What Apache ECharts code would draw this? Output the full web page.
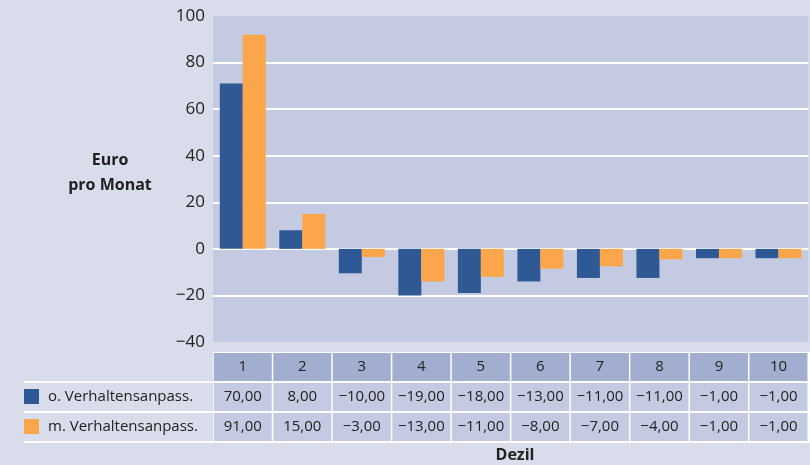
<!DOCTYPE html>
<html>
<head>
<meta charset="utf-8">
<script src="https://cdn.jsdelivr.net/npm/echarts@6/dist/echarts.min.js"></script>
<style>
  html, body { margin: 0; padding: 0; background: #d9dcea; }
  #chart { width: 810px; height: 465px; }
</style>
</head>
<body>
<div id="chart"></div>
<script>
var deciles = ['1', '2', '3', '4', '5', '6', '7', '8', '9', '10'];
var seriesNames = ['o. Verhaltensanpass.', 'm. Verhaltensanpass.'];
// bar heights as drawn
var barsOhne = [71, 8, -10.5, -20, -19, -14, -12.5, -12.5, -4, -4];
var barsMit = [92, 15, -3.5, -14, -12, -8.5, -7.5, -4.5, -4, -4];
// values printed in the table
var tableOhne = [70, 8, -10, -19, -18, -13, -11, -11, -1, -1];
var tableMit = [91, 15, -3, -13, -11, -8, -7, -4, -1, -1];

var FONT = '"Open Sans"';
var TXT = '#222';

function fmt(v) {
  return (v < 0 ? '\u2212' : '') + Math.abs(v).toFixed(2).replace('.', ',');
}

function rowAxis(margin, bg, texts) {
  return {
    type: 'category',
    gridIndex: 0,
    position: 'bottom',
    data: deciles,
    axisLine: { show: false },
    axisTick: { show: false },
    splitLine: { show: false },
    axisLabel: {
      interval: 0,
      margin: margin,
      width: 58,
      height: 28,
      lineHeight: 28,
      backgroundColor: bg,
      align: 'center',
      color: TXT,
      fontSize: 15,
      fontFamily: FONT,
      formatter: function (v, i) {
        return texts ? fmt(texts[i]) : v;
      }
    }
  };
}

var myChart = echarts.init(document.getElementById('chart'));
var option = {
  backgroundColor: '#d9dcea',
  animation: false,
  color: ['#2f5994', '#fba64a'],
  grid: [{
    left: 213,
    right: -8,
    top: 16,
    bottom: 123,
    show: true,
    backgroundColor: '#c5cae3',
    borderWidth: 0
  }, {
    left: 213,
    right: -8,
    top: 352,
    height: 91,
    show: true,
    backgroundColor: '#fff',
    borderWidth: 0,
    z: -1
  }],
  legend: {
    orient: 'vertical',
    left: 24,
    top: 389,
    padding: 0,
    itemWidth: 15,
    itemHeight: 15,
    itemGap: 15,
    icon: 'rect',
    selectedMode: false,
    textStyle: { fontSize: 15, color: TXT, fontFamily: FONT, padding: [0, 0, 0, 4] },
    data: seriesNames
  },
  xAxis: [
    rowAxis(11, '#a1aed0', null),
    rowAxis(41, '#c5cae3', tableOhne),
    rowAxis(71, '#c5cae3', tableMit),
    { type: 'category', gridIndex: 1, show: false, data: deciles }
  ],
  yAxis: [{
    type: 'value',
    min: -40,
    max: 100,
    interval: 20,
    axisLine: { show: false },
    axisTick: { show: false },
    axisLabel: {
      margin: 8,
      color: TXT,
      fontSize: 17,
      fontFamily: FONT,
      formatter: function (v) { return v < 0 ? '\u2212' + Math.abs(v) : v; }
    },
    splitLine: {
      showMinLine: false,
      showMaxLine: false,
      lineStyle: { color: '#fff', width: 2 }
    }
  }, {
    type: 'value',
    gridIndex: 1,
    show: false
  }],
  graphic: [
    { type: 'rect', shape: { x: 24, y: 381, width: 190, height: 2 }, style: { fill: '#fff' } },
    { type: 'rect', shape: { x: 24, y: 411, width: 190, height: 2 }, style: { fill: '#fff' } },
    { type: 'rect', shape: { x: 24, y: 441, width: 190, height: 2 }, style: { fill: '#fff' } },
    {
      type: 'text', x: 110, y: 148,
      style: { text: 'Euro\npro Monat', textAlign: 'center', font: 'bold 16px ' + FONT, fill: TXT, lineHeight: 25 }
    },
    {
      type: 'text', x: 515, y: 447,
      style: { text: 'Dezil', textAlign: 'center', font: 'bold 16px ' + FONT, fill: TXT }
    }
  ],
  series: [{
    name: seriesNames[0],
    type: 'bar',
    xAxisIndex: 0,
    yAxisIndex: 0,
    barWidth: 23,
    barGap: 0,
    data: barsOhne
  }, {
    name: seriesNames[1],
    type: 'bar',
    xAxisIndex: 0,
    yAxisIndex: 0,
    barWidth: 23,
    barGap: 0,
    data: barsMit
  }]
};
myChart.setOption(option);
window.addEventListener('resize', function () {
  myChart.resize();
});
</script>
</body>
</html>
